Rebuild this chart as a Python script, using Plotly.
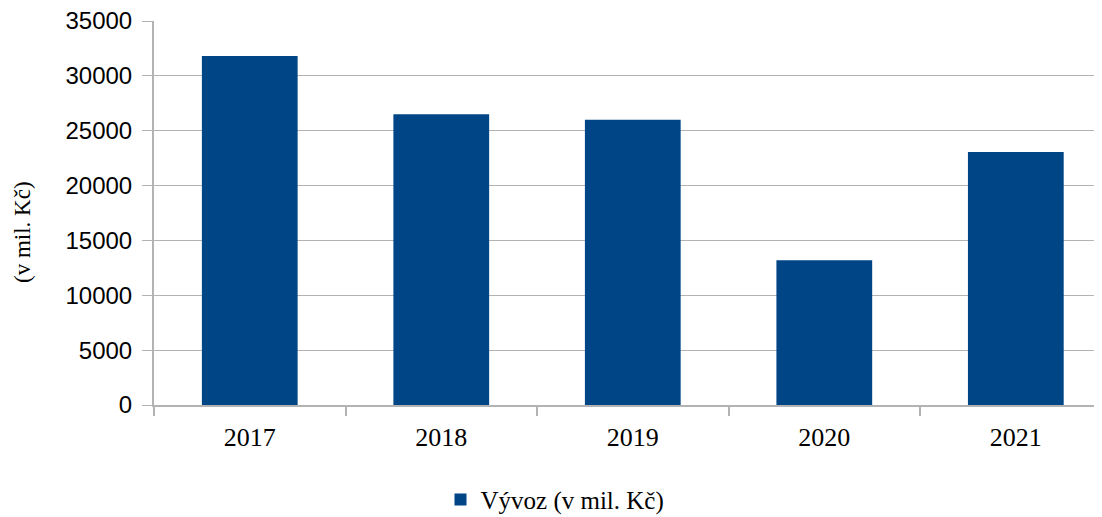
import plotly.graph_objects as go

roky = ["2017", "2018", "2019", "2020", "2021"]
vyvoz = [31800, 26500, 26000, 13200, 23070]

GRID = "#b3b3b3"
BLUE = "#004586"
SERIF = "Liberation Serif"

# page body has an 8px margin, so the figure is sized/offset to compensate
fig = go.Figure()
fig.add_trace(go.Bar(x=roky, y=vyvoz, name="Vývoz (v mil. Kč)",
                     marker=dict(color=BLUE, line=dict(width=0))))

fig.update_layout(
    width=1094, height=509,
    plot_bgcolor="white", paper_bgcolor="white",
    margin=dict(l=146, r=0, t=13, b=112),
    bargap=0.5,
    showlegend=True,
    legend=dict(orientation="h", xref="container", yref="container",
                x=0.5, xanchor="center", y=0.034, yanchor="middle",
                font=dict(family=SERIF, size=25, color="black")),
    xaxis=dict(type="category", range=[-0.5, 4.45],
               showline=True, linecolor=GRID, linewidth=1.5,
               ticks="outside", tickson="boundaries", ticklen=9, tickcolor=GRID, tickwidth=2,
               ticklabelstandoff=8,
               tickfont=dict(family=SERIF, size=26, color="black"), showgrid=False),
    yaxis=dict(range=[0, 35000], dtick=5000, tickformat="d",
               ticklabeloverflow="allow",
               showline=True, linecolor=GRID, linewidth=2,
               showgrid=True, gridcolor=GRID, gridwidth=1.3, zeroline=False,
               ticks="outside", ticklen=10, tickcolor=GRID, tickwidth=1.3,
               ticklabelstandoff=5,
               tickfont=dict(family="Liberation Sans", size=24, color="black")),
    annotations=[dict(text="(v mil. Kč)", textangle=-90, showarrow=False,
                      xref="paper", yref="paper", x=(22 - 154) / 948, y=(405 - 232) / 384,
                      xanchor="center", yanchor="middle",
                      font=dict(family=SERIF, size=23, color="black"))],
)

fig.write_html("out.html")
